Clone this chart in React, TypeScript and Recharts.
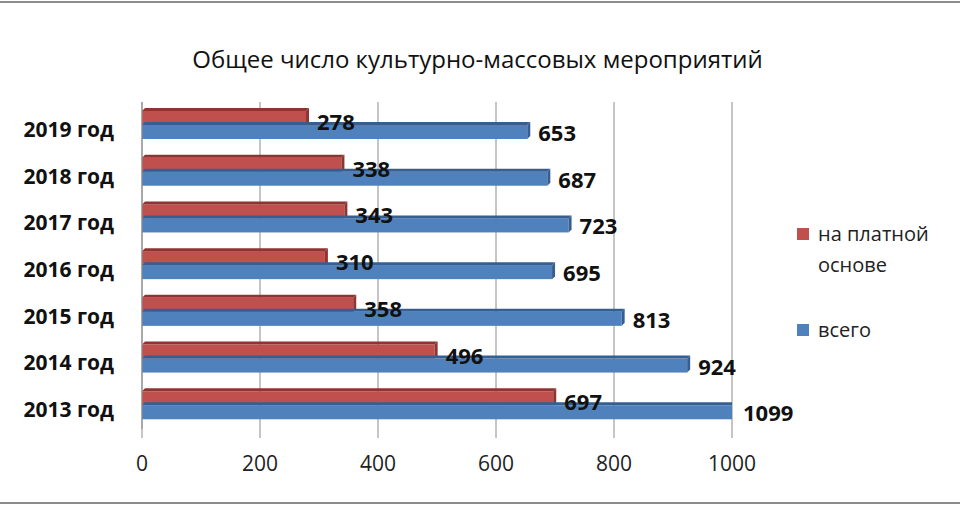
import React from 'react';
import {
  BarChart,
  Bar,
  XAxis,
  YAxis,
  CartesianGrid,
  LabelList,
} from 'recharts';

const years = ['2019 год', '2018 год', '2017 год', '2016 год', '2015 год', '2014 год', '2013 год'];
const paid = [278, 338, 343, 310, 358, 496, 697];
const total = [653, 687, 723, 695, 813, 924, 1099];
const xTicks = [0, 200, 400, 600, 800, 1000];

const data = years.map((year, i) => ({ year, paid: paid[i], total: total[i] }));

const W = 960;
const H = 510;
const MARGIN = { top: 102, right: 228, bottom: 0, left: 0 };
const PLOT_RIGHT = W - MARGIN.right;
const FONT = '"Open Sans", "DejaVu Sans", sans-serif';

const RED = '#C0504D';
const RED_DARK = '#8E3431';
const BLUE = '#4F81BD';
const BLUE_DARK = '#365F91';

const Bar3D = (props: any) => {
  const { x, y, width, height, fill, dark } = props;
  if (!width || width <= 0) return null;
  const d = 3;
  const right = x + width;
  return (
    <g>
      <rect x={x} y={y} width={width} height={height} fill={fill} />
      <polygon
        points={`${x},${y} ${x + d},${y - d} ${right + d},${y - d} ${right},${y}`}
        fill={dark}
      />
      <polygon
        points={`${right},${y} ${right + d},${y - d} ${right + d},${y + height - d} ${right},${y + height}`}
        fill={dark}
      />
    </g>
  );
};

const makeLabel = (dy: number) => (props: any) => {
  const { x, y, width, height, value } = props;
  const end = Math.min(x + width, PLOT_RIGHT);
  return (
    <text
      x={end + 11}
      y={y + height / 2 + dy}
      dominantBaseline="central"
      fontFamily={FONT}
      fontWeight="bold"
      fontSize={22}
      fill="#111"
    >
      {value}
    </text>
  );
};

const LegendBox = () => (
  <div
    style={{
      position: 'absolute',
      left: 797,
      top: 218,
      fontFamily: FONT,
      fontSize: 20,
      color: '#222',
      lineHeight: '31px',
    }}
  >
    <div style={{ display: 'flex', alignItems: 'flex-start' }}>
      <span style={{ width: 12, height: 12, background: RED, marginTop: 10, marginRight: 9 }} />
      <span>
        на платной
        <br />
        основе
      </span>
    </div>
    <div style={{ display: 'flex', alignItems: 'flex-start', marginTop: 34 }}>
      <span style={{ width: 12, height: 12, background: BLUE, marginTop: 10, marginRight: 9 }} />
      <span>всего</span>
    </div>
  </div>
);

export default function App() {
  return (
    <div
      style={{
        position: 'absolute',
        left: 0,
        top: 0,
        width: W,
        height: H,
        background: '#fff',
      }}
    >
      <div
        style={{
          position: 'absolute',
          left: 0,
          top: 1,
          width: W,
          height: 503,
          borderTop: '2px solid #8c8c8c',
          borderBottom: '2px solid #8c8c8c',
          boxSizing: 'border-box',
        }}
      />
      <div
        style={{
          position: 'absolute',
          left: 0,
          top: 42,
          width: 955,
          textAlign: 'center',
          fontFamily: FONT,
          fontSize: 24,
          color: '#111',
        }}
      >
        Общее число культурно-массовых мероприятий
      </div>
      <LegendBox />
      <BarChart
        width={W}
        height={H}
        data={data}
        layout="vertical"
        margin={MARGIN}
        barGap={0}
        barSize={14}
      >
        <CartesianGrid horizontal={false} stroke="#8c8c8c" />
        <XAxis
          type="number"
          domain={[0, 1000]}
          ticks={xTicks}
          allowDataOverflow
          axisLine={false}
          tickLine={{ stroke: '#8c8c8c' }}
          tickSize={9}
          tickMargin={18}
          height={81}
          tick={{ fontFamily: FONT, fontSize: 21, fill: '#222' }}
        />
        <YAxis
          type="category"
          dataKey="year"
          width={142}
          axisLine={{ stroke: '#8c8c8c' }}
          tickLine={false}
          tickSize={0}
          tickMargin={28}
          tick={{ fontFamily: FONT, fontSize: 21, fontWeight: 'bold', fill: '#111', dy: 4 }}
        />
        <Bar
          dataKey="paid"
          name="на платной основе"
          fill={RED}
          isAnimationActive={false}
          shape={(p: any) => <Bar3D {...p} dark={RED_DARK} />}
        >
          <LabelList dataKey="paid" content={makeLabel(3)} />
        </Bar>
        <Bar
          dataKey="total"
          name="всего"
          fill={BLUE}
          isAnimationActive={false}
          shape={(p: any) => <Bar3D {...p} dark={BLUE_DARK} />}
        >
          <LabelList dataKey="total" content={makeLabel(0)} />
        </Bar>
      </BarChart>
    </div>
  );
}
